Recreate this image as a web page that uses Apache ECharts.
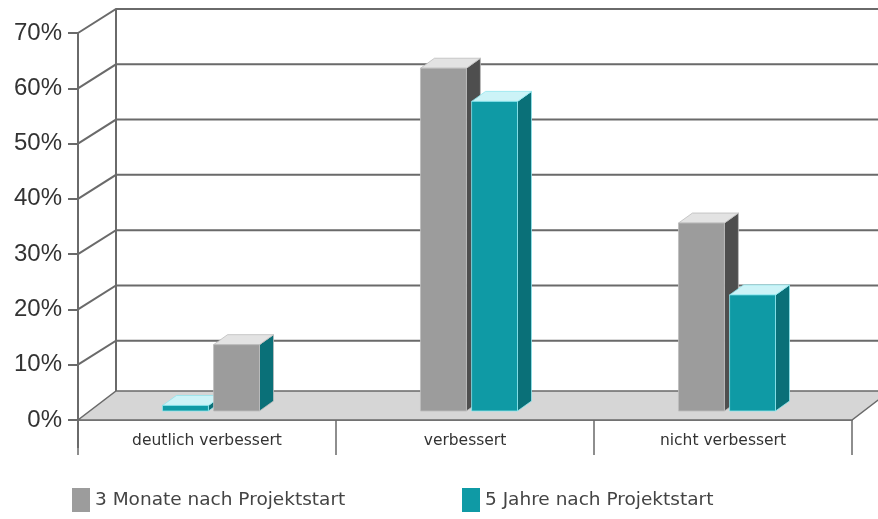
<!DOCTYPE html>
<html>
<head>
<meta charset="utf-8">
<script src="https://cdn.jsdelivr.net/npm/echarts@6/dist/echarts.min.js"></script>
<style>
html,body{margin:0;padding:0;background:#fff;}
#chart{width:878px;height:519px;}
</style>
</head>
<body>
<div id="chart"></div>
<script>
// ---- data ----
const categories = ['deutlich verbessert', 'verbessert', 'nicht verbessert'];
const seriesNames = ['3 Monate nach Projektstart', '5 Jahre nach Projektstart'];
const monate3 = [1, 62, 34];   // left bar in each group
const jahre5 = [12, 56, 21];   // right bar in each group
const yMax = 70;
const yStep = 10;

// ---- styles ----
const GRAY = { front: '#9c9c9c', side: '#4e4e4e', top: '#e3e3e3', edge: '#bdbdbd' };
const TEAL = { front: '#0f9aa5', side: '#0a7078', top: '#ccf3f7', edge: '#8fe6ee' };
// in the first group the original picture swaps colours of the bars
const overrides = {
  '0-0': { front: TEAL.front, side: TEAL.side, top: TEAL.top, edge: TEAL.edge },
  '1-0': { front: GRAY.front, side: TEAL.side, top: GRAY.top, edge: GRAY.edge }
};
const DEPTH = { x: 38, y: -24 };      // back wall offset
const FLOOR_DY = -29;                 // floor back edge offset
const BAR_PLANE = { x: 4, y: -9 };    // bars stand a bit behind the front edge
const BAR_SIDE = { x: 14, y: -10 };   // bar 3D depth
const LINE = '#6a6a6a';

const chart = echarts.init(document.getElementById('chart'));

function frameRender(params, api) {
  const cs = params.coordSys;
  const x0 = cs.x, x1 = cs.x + cs.width;
  const y0 = api.coord([0, 0])[1];
  const yTop = api.coord([0, yMax])[1];
  const W = api.getWidth();
  const ch = [];
  // floor
  ch.push({
    type: 'polygon',
    shape: { points: [[x0, y0], [x1, y0], [x1 + DEPTH.x, y0 + FLOOR_DY], [x0 + DEPTH.x, y0 + FLOOR_DY]] },
    style: { fill: '#d6d6d6', stroke: LINE, lineWidth: 1.5 }
  });
  // back wall left edge
  ch.push({
    type: 'line',
    shape: { x1: x0 + DEPTH.x, y1: yTop + DEPTH.y, x2: x0 + DEPTH.x, y2: y0 + FLOOR_DY },
    style: { stroke: LINE, lineWidth: 2 }
  });
  // gridlines
  for (let v = yStep; v <= yMax; v += yStep) {
    const yv = api.coord([0, v])[1];
    ch.push({
      type: 'polyline',
      shape: { points: [[x0, yv], [x0 + DEPTH.x, yv + DEPTH.y], [W, yv + DEPTH.y]] },
      style: { stroke: LINE, lineWidth: 2, fill: null }
    });
  }
  // front vertical axis line
  ch.push({
    type: 'line',
    shape: { x1: x0, y1: yTop, x2: x0, y2: y0 + 28 },
    style: { stroke: LINE, lineWidth: 2 }
  });
  return { type: 'group', children: ch };
}

function makeBarRender(seriesIdx, palette) {
  return function (params, api) {
    const cat = api.value(0);
    const val = api.value(1);
    const c = api.coord([cat, 0]);
    const t = api.coord([cat, val]);
    const band = api.size([1, 0])[0];
    const w = band * 0.178;
    const gap = band * 0.02;
    const cx = c[0] + BAR_PLANE.x;
    const x = seriesIdx === 0 ? cx - gap / 2 - w : cx + gap / 2;
    const yb = c[1] + BAR_PLANE.y;
    const yt = t[1] + BAR_PLANE.y;
    const p = overrides[seriesIdx + '-' + cat] || palette;
    return {
      type: 'group',
      children: [
        {
          type: 'polygon',
          shape: { points: [[x + w, yt], [x + w + BAR_SIDE.x, yt + BAR_SIDE.y], [x + w + BAR_SIDE.x, yb + BAR_SIDE.y], [x + w, yb]] },
          style: { fill: p.side, stroke: p.edge, lineWidth: 0.8 }
        },
        {
          type: 'polygon',
          shape: { points: [[x, yt], [x + BAR_SIDE.x, yt + BAR_SIDE.y], [x + w + BAR_SIDE.x, yt + BAR_SIDE.y], [x + w, yt]] },
          style: { fill: p.top, stroke: p.edge, lineWidth: 0.8 }
        },
        {
          type: 'rect',
          shape: { x: x, y: yt, width: w, height: yb - yt },
          style: { fill: p.front, stroke: p.edge, lineWidth: 0.8 }
        }
      ]
    };
  };
}

const legendText = { fontFamily: 'DejaVu Sans', fontSize: 18.5, color: '#444' };
const option = {
  animation: false,
  backgroundColor: '#ffffff',
  grid: { left: 78, right: 26, top: 33, bottom: 99 },
  legend: [
    {
      data: [seriesNames[0]], left: 72, top: 488, icon: 'rect', padding: 0,
      itemWidth: 18, itemHeight: 24, itemGap: 0, textStyle: legendText
    },
    {
      data: [seriesNames[1]], left: 462, top: 488, icon: 'rect', padding: 0,
      itemWidth: 18, itemHeight: 24, itemGap: 0, textStyle: legendText
    }
  ],
  xAxis: {
    type: 'category',
    data: categories,
    boundaryGap: true,
    axisLine: { show: true, lineStyle: { color: LINE, width: 1.5 } },
    axisTick: { show: true, length: 35, lineStyle: { color: LINE, width: 1.5 } },
    axisLabel: { margin: 13, fontFamily: 'DejaVu Sans', fontSize: 15.5, color: '#333' },
    splitLine: { show: false }
  },
  yAxis: {
    type: 'value',
    min: 0, max: yMax, interval: yStep,
    axisLine: { show: false },
    axisTick: { show: true, length: 10, lineStyle: { color: LINE, width: 2 } },
    axisLabel: { formatter: '{value}%', margin: 16, fontFamily: 'Liberation Sans', fontSize: 24, color: '#333' },
    splitLine: { show: false }
  },
  series: [
    {
      type: 'custom', name: 'frame', z: 1, silent: true,
      renderItem: frameRender,
      data: [[0, 0]]
    },
    {
      type: 'custom', name: seriesNames[0], z: 3,
      itemStyle: { color: GRAY.front },
      renderItem: makeBarRender(0, GRAY),
      data: monate3.map((v, i) => [i, v])
    },
    {
      type: 'custom', name: seriesNames[1], z: 3,
      itemStyle: { color: TEAL.front },
      renderItem: makeBarRender(1, TEAL),
      data: jahre5.map((v, i) => [i, v])
    }
  ]
};
chart.setOption(option);
</script>
</body>
</html>
